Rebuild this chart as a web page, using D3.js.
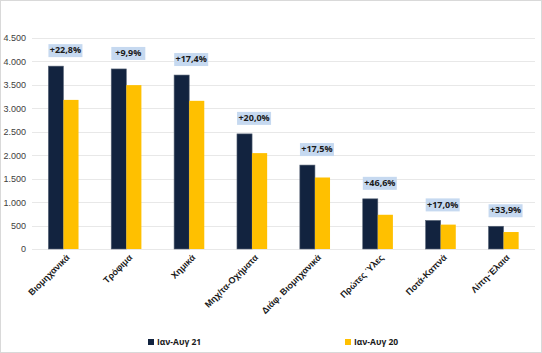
<!DOCTYPE html>
<html>
<head>
<meta charset="utf-8">
<script src="https://cdn.jsdelivr.net/npm/d3@7"></script>
<style>
  body { margin: 0; background: #fff; }
  #chart { width: 542px; height: 353px; }
  svg { font-family: 'Open Sans', 'DejaVu Sans', sans-serif; }
</style>
</head>
<body>
<div id="chart"></div>
<script>
const categories = ['Βιομηχανικά', 'Τρόφιμα', 'Χημικά', 'Μηχ/τα-Οχήματα', 'Διάφ. Βιομηχανικά', 'Πρώτες Ύλες', 'Ποτά-Καπνά', 'Λίπη-Έλαια']
const series21 = [3900, 3840, 3710, 2455, 1790, 1070, 610, 485]
const series20 = [3180, 3495, 3160, 2045, 1525, 730, 520, 362]
const changes = ['+22,8%', '+9,9%', '+17,4%', '+20,0%', '+17,5%', '+46,6%', '+17,0%', '+33,9%']
const yTicks = [0, 500, 1000, 1500, 2000, 2500, 3000, 3500, 4000, 4500]
const seriesNames = ['Ιαν-Αυγ 21', 'Ιαν-Αυγ 20']
const colors = ['#12233f', '#ffc000']

const W = 542
const H = 353
const margin = { top: 38, right: 7, bottom: 104, left: 32 }
const width = W - margin.left - margin.right
const height = H - margin.top - margin.bottom

const root = d3.select('#chart')
  .append('svg')
  .attr('width', W)
  .attr('height', H)

// outer frame
root.append('rect')
  .attr('x', 0.5).attr('y', 0.5)
  .attr('width', W - 1).attr('height', H - 1)
  .attr('fill', '#fff')
  .attr('stroke', '#d9d9d9')

const svg = root.append('g')
  .attr('transform', `translate(${margin.left},${margin.top})`)

const x = d3.scaleBand()
  .domain(categories)
  .range([0, width])
  .paddingInner(0.52)
  .paddingOuter(0.26)

const x1 = d3.scaleBand()
  .domain([0, 1])
  .range([0, x.bandwidth()])

const y = d3.scaleLinear()
  .domain([0, 4500])
  .range([height, 0])

// gridlines
svg.append('g')
  .selectAll('line')
  .data(yTicks)
  .join('line')
  .attr('x1', 0)
  .attr('x2', width)
  .attr('y1', d => Math.round(y(d)) + 0.5)
  .attr('y2', d => Math.round(y(d)) + 0.5)
  .attr('stroke', '#e8e8e8')

// y axis
const yAxis = svg.append('g')
  .call(d3.axisLeft(y)
    .tickValues(yTicks)
    .tickSize(0)
    .tickPadding(6)
    .tickFormat(d => d3.format(',')(d).replace(',', '.')))
yAxis.select('.domain').remove()
yAxis.selectAll('text')
  .attr('fill', '#404040')
  .style('font-size', '9px')

// bars
const groups = svg.append('g')
  .selectAll('g')
  .data(categories)
  .join('g')
  .attr('transform', d => `translate(${x(d)},0)`)

groups.selectAll('rect')
  .data((d, i) => [series21[i], series20[i]])
  .join('rect')
  .attr('x', (d, j) => x1(j))
  .attr('y', d => y(d))
  .attr('width', x1.bandwidth())
  .attr('height', d => height - y(d))
  .attr('fill', (d, j) => colors[j])
  .attr('stroke', (d, j) => j === 0 ? '#5a6678' : 'none')
  .attr('stroke-width', 0.6)

// change labels
const labels = groups.append('g')
  .attr('transform', (d, i) => `translate(${x.bandwidth() / 2 + 2},${y(series21[i]) - 16})`)

labels.append('rect')
  .attr('x', -17)
  .attr('y', -6)
  .attr('width', 34)
  .attr('height', 13)
  .attr('fill', '#c6d9f0')

labels.append('text')
  .attr('text-anchor', 'middle')
  .attr('dy', '0.35em')
  .style('font-size', '9px')
  .style('font-weight', 'bold')
  .attr('fill', '#1a1a1a')
  .text((d, i) => changes[i])

// category labels
const xAxis = svg.append('g')
  .attr('transform', `translate(0,${height})`)
  .call(d3.axisBottom(x).tickSize(0).tickPadding(8))
xAxis.select('.domain').remove()
xAxis.selectAll('text')
  .attr('transform', 'rotate(-45)')
  .attr('dy', '0.35em')
  .attr('dx', '-0.2em')
  .style('text-anchor', 'end')
  .style('font-size', '9px')
  .style('font-weight', '600')
  .attr('fill', '#1a1a1a')

// legend
const legendX = [148, 345]
const legend = root.append('g')
seriesNames.forEach((name, i) => {
  const g = legend.append('g')
    .attr('transform', `translate(${legendX[i]},${342})`)
  g.append('rect')
    .attr('x', 0).attr('y', -3)
    .attr('width', 6).attr('height', 6)
    .attr('fill', colors[i])
  g.append('text')
    .attr('x', 9)
    .attr('dy', '0.35em')
    .style('font-size', '8.5px')
    .style('font-weight', 'bold')
    .attr('fill', '#1a1a1a')
    .text(name)
})
</script>
</body>
</html>
